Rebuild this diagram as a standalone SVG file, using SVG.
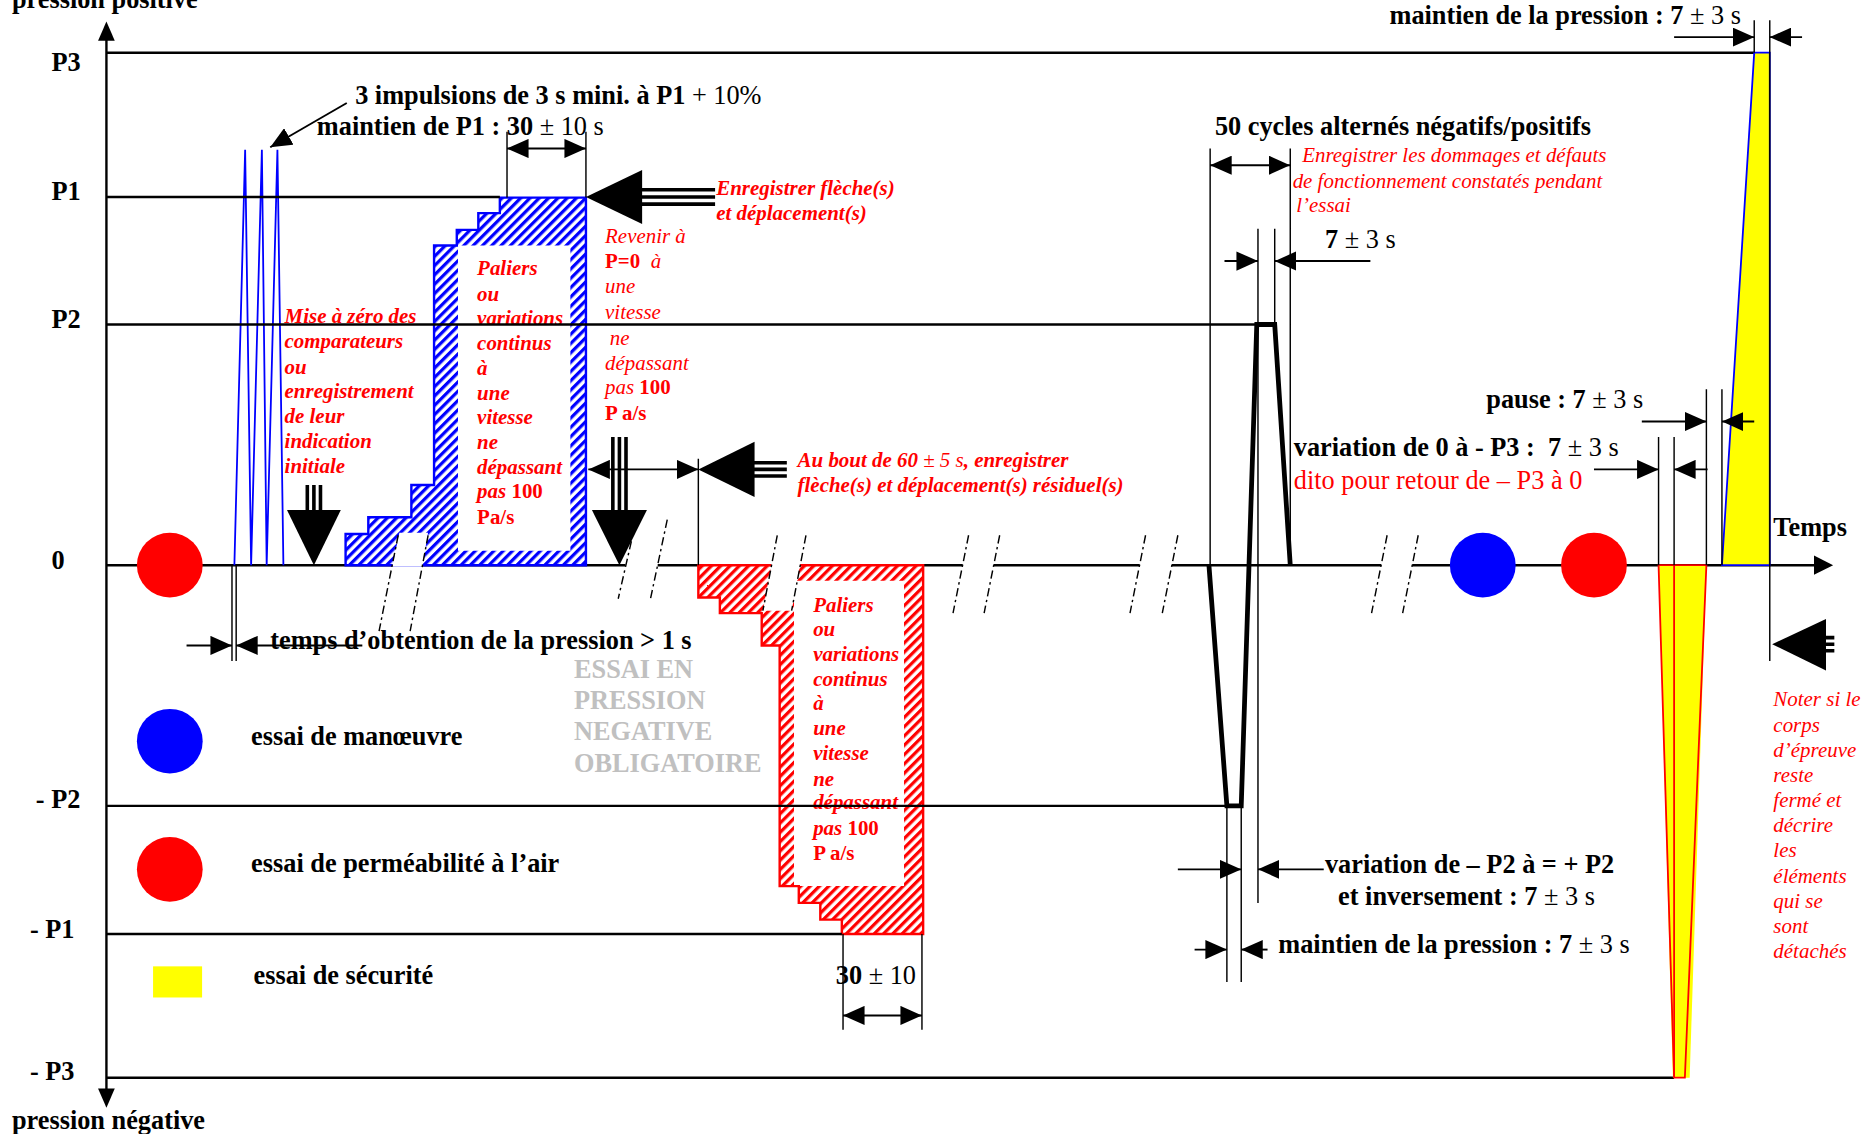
<svg xmlns="http://www.w3.org/2000/svg" width="1875" height="1134" viewBox="0 0 1875 1134">
<style>
text{font-family:"Liberation Serif","Times New Roman",serif}
.lb{font-size:22px;font-weight:bold;fill:#000}
.n{font-weight:normal}
.ri{font-size:17.5px;font-style:italic;fill:#f00}
.rbi{font-size:17.5px;font-style:italic;font-weight:bold;fill:#f00}
.up{font-style:normal;font-weight:bold}
.rr{font-size:22px;fill:#f00}
.gray{font-size:22px;font-weight:bold;fill:#c0c0c0}
.lvl{stroke:#000;stroke-width:2;fill:none}
.thin{stroke:#000;stroke-width:1.2;fill:none}
.dim{stroke:#000;stroke-width:1.6;fill:none}
.brk{stroke:#000;stroke-width:1.2;stroke-dasharray:7 3 2 3;fill:none}
.shaft{stroke:#000;stroke-width:3;fill:none}
.blk{fill:#000}
</style>
<defs>
<marker id="ah" viewBox="0 0 18 16" refX="18" refY="8" markerWidth="18" markerHeight="16" markerUnits="userSpaceOnUse" orient="auto-start-reverse"><path d="M0,0 L18,8 L0,16 z" fill="#000"/></marker>
<pattern id="hb" width="5.5" height="5.5" patternUnits="userSpaceOnUse" patternTransform="rotate(45)"><rect width="5.5" height="5.5" fill="#fff"/><rect x="0" y="0" width="2.7" height="5.5" fill="#00f"/></pattern>
<pattern id="hr" width="5.5" height="5.5" patternUnits="userSpaceOnUse" patternTransform="rotate(45)"><rect width="5.5" height="5.5" fill="#fff"/><rect x="0" y="0" width="2.7" height="5.5" fill="#f00"/></pattern>
</defs>
<rect width="1875" height="1134" fill="#fff"/>
<g transform="scale(1.19579,1.19746)">

<g id="axes">
<line class="lvl" x1="89" y1="30" x2="89" y2="912"/>
<path class="blk" d="M89,18 L82,34 L96,34 z"/>
<path class="blk" d="M89,925 L82,909 L96,909 z"/>
<path class="lvl" d="M89,472 H328 M353,472 H523 M550,472 H645 M669,472 H805 M831,472 H953 M980,472 H1155 M1181,472 H1520"/>
<path class="blk" d="M1533,472 L1517,464 L1517,480 z"/>
<text class="lb" x="10" y="7">pression positive</text>
<text class="lb" x="10" y="943">pression négative</text>
<text class="lb" x="1483" y="448">Temps</text>
<text class="lb" x="43" y="59">P3</text>
<text class="lb" x="43" y="167">P1</text>
<text class="lb" x="43" y="274">P2</text>
<text class="lb" x="43" y="475">0</text>
<text class="lb" x="30" y="675">- P2</text>
<text class="lb" x="25" y="783">- P1</text>
<text class="lb" x="25" y="902">- P3</text>
</g>

<g id="spikes">
<polyline points="196,472 205,125 210,472 219,125 223,472 232,125 237,472" fill="none" stroke="#00f" stroke-width="1.5"/>
</g>

<g id="positive-stairs">
<path d="M289,472 V446 H308 V432 H344 V405 H363 V205 H382 V192 H400 V178 H418 V165 H490 V472 Z M383,205 H477 V460 H383 Z" fill="url(#hb)" fill-rule="evenodd"/>
<path d="M289,472 V446 H308 V432 H344 V405 H363 V205 H382 V192 H400 V178 H418 V165 H490 V472 Z" fill="none" stroke="#00f" stroke-width="2"/>
<text class="rbi"><tspan x="399" y="230">Paliers</tspan><tspan x="399" y="251">ou</tspan><tspan x="399" y="271">variations</tspan><tspan x="399" y="292">continus</tspan><tspan x="399" y="313">à</tspan><tspan x="399" y="334">une</tspan><tspan x="399" y="354">vitesse</tspan><tspan x="399" y="375">ne</tspan><tspan x="399" y="396">dépassant</tspan><tspan x="399" y="416">pas <tspan class="up">100</tspan></tspan><tspan x="399" y="438" class="up">Pa/s</tspan></text>
</g>

<g id="negative-stairs">
<path d="M584,472 V499 H602 V512 H637 V539 H652 V740 H668 V754 H686 V768 H704 V780 H772 V472 Z M664,485 H756 V740 H664 Z" fill="url(#hr)" fill-rule="evenodd"/>
<path d="M584,472 V499 H602 V512 H637 V539 H652 V740 H668 V754 H686 V768 H704 V780 H772 V472 Z" fill="none" stroke="#f00" stroke-width="2"/>
<text class="rbi"><tspan x="680" y="511">Paliers</tspan><tspan x="680" y="531">ou</tspan><tspan x="680" y="552">variations</tspan><tspan x="680" y="573">continus</tspan><tspan x="680" y="593">à</tspan><tspan x="680" y="614">une</tspan><tspan x="680" y="635">vitesse</tspan><tspan x="680" y="656">ne</tspan><tspan x="680" y="676">dépassant</tspan><tspan x="680" y="697">pas <tspan class="up">100</tspan></tspan><tspan x="680" y="718" class="up">P a/s</tspan></text>
</g>

<g id="levels">
<line class="lvl" x1="89" y1="44" x2="1467" y2="44"/>
<line class="lvl" x1="89" y1="164.5" x2="418" y2="164.5"/>
<line class="lvl" x1="89" y1="271" x2="1052" y2="271"/>
<line class="lvl" x1="89" y1="673" x2="1026" y2="673"/>
<line class="lvl" x1="89" y1="780" x2="704" y2="780"/>
<line class="lvl" x1="89" y1="900" x2="1400" y2="900"/>
</g>

<g id="breaks">
<polygon points="334,445 358,445 353,473 328,473" fill="#fff"/>
<polygon points="645.4,470 669.4,470 662,510 638,510" fill="#fff"/>
<line class="brk" x1="333" y1="447" x2="317" y2="527"/>
<line class="brk" x1="358" y1="447" x2="343" y2="527"/>
<line class="brk" x1="528" y1="452" x2="517" y2="500"/>
<line class="brk" x1="558" y1="434" x2="544" y2="500"/>
<line class="brk" x1="650" y1="447" x2="638" y2="510"/>
<line class="brk" x1="674" y1="447" x2="662" y2="510"/>
<line class="brk" x1="810" y1="447" x2="797" y2="512"/>
<line class="brk" x1="836" y1="447" x2="823" y2="512"/>
<line class="brk" x1="958" y1="447" x2="945" y2="512"/>
<line class="brk" x1="985" y1="447" x2="972" y2="512"/>
<line class="brk" x1="1160" y1="447" x2="1147" y2="512"/>
<line class="brk" x1="1186" y1="447" x2="1173" y2="512"/>
</g>

<g id="cycles">
<polyline points="1011,472 1026,673 1038,673 1051,271 1066,271 1079,472" fill="none" stroke="#000" stroke-width="4"/>
</g>

<g id="security-positive">
<polygon points="1440,472 1467,44 1480,44 1480,472" fill="#ff0" stroke="#00f" stroke-width="1.5"/>
</g>
<g id="security-negative">
<polygon points="1387,472 1427,472 1413,900 1399,900" fill="#ff0"/>
<polygon points="1387,472 1427,472 1409,900 1400,900" fill="none" stroke="#f00" stroke-width="1.5"/>
<line x1="1400" y1="472" x2="1400" y2="900" stroke="#f00" stroke-width="1.5"/>
</g>

<g id="markers-on-axis">
<ellipse cx="142" cy="472" rx="27.5" ry="27" fill="#f00"/>
<ellipse cx="1240" cy="472" rx="27.5" ry="27" fill="#00f"/>
<ellipse cx="1333" cy="472" rx="27.5" ry="27" fill="#f00"/>
</g>

<g id="legend">
<ellipse cx="142" cy="619" rx="27.5" ry="27" fill="#00f"/>
<text class="lb" x="210" y="622">essai de manœuvre</text>
<ellipse cx="142" cy="726" rx="27.5" ry="27" fill="#f00"/>
<text class="lb" x="210" y="728">essai de perméabilité à l’air</text>
<rect x="128" y="807" width="41" height="26" fill="#ff0"/>
<text class="lb" x="212" y="822">essai de sécurité</text>
<text class="gray"><tspan x="480" y="566">ESSAI EN</tspan><tspan x="480" y="592">PRESSION</tspan><tspan x="480" y="618">NEGATIVE</tspan><tspan x="480" y="645">OBLIGATOIRE</tspan></text>
</g>

<g id="connectors">
<path class="thin" d="M424,110 V165 M490,110 V165 M194,472 V552 M197.5,472 V552 M705,780 V860 M771,780 V860 M1012,124 V472 M1079,124 V472 M1052,191 V754 M1066,191 V271 M1026,673 V820 M1038,673 V820 M1467,17 V44 M1480,17 V552 M1427,325 V472 M1440,325 V472 M1387,365 V472 M1400,365 V472 M584,383 V472"/>
<line class="dim" x1="424" y1="124" x2="490" y2="124" marker-start="url(#ah)" marker-end="url(#ah)"/>
<line class="dim" x1="156" y1="539" x2="194" y2="539" marker-end="url(#ah)"/>
<line class="dim" x1="303" y1="539" x2="197.5" y2="539" marker-end="url(#ah)"/>
<line class="dim" x1="705" y1="848" x2="771" y2="848" marker-start="url(#ah)" marker-end="url(#ah)"/>
<line class="dim" x1="1012" y1="138" x2="1079" y2="138" marker-start="url(#ah)" marker-end="url(#ah)"/>
<line class="dim" x1="1024" y1="218" x2="1052" y2="218" marker-end="url(#ah)"/>
<line class="dim" x1="1146" y1="218" x2="1066" y2="218" marker-end="url(#ah)"/>
<line class="dim" x1="985" y1="726" x2="1038" y2="726" marker-end="url(#ah)"/>
<line class="dim" x1="1107" y1="726" x2="1052" y2="726" marker-end="url(#ah)"/>
<line class="dim" x1="999" y1="793" x2="1026" y2="793" marker-end="url(#ah)"/>
<line class="dim" x1="1060" y1="793" x2="1038" y2="793" marker-end="url(#ah)"/>
<line class="dim" x1="1400" y1="31" x2="1467" y2="31" marker-end="url(#ah)"/>
<line class="dim" x1="1507" y1="31" x2="1480" y2="31" marker-end="url(#ah)"/>
<line class="dim" x1="1373" y1="352" x2="1427" y2="352" marker-end="url(#ah)"/>
<line class="dim" x1="1467" y1="352" x2="1440" y2="352" marker-end="url(#ah)"/>
<line class="dim" x1="1333" y1="392" x2="1387" y2="392" marker-end="url(#ah)"/>
<line class="dim" x1="1428" y1="392" x2="1400" y2="392" marker-end="url(#ah)"/>
<line class="dim" x1="492" y1="392" x2="584" y2="392" marker-start="url(#ah)" marker-end="url(#ah)"/>
<line class="dim" x1="290" y1="86" x2="226" y2="123" marker-end="url(#ah)"/>
<path class="blk" d="M490,164.5 L537,142 L537,187 z"/>
<path class="shaft" d="M536,158.5 H598 M536,164.5 H598 M536,170.5 H598"/>
<path class="blk" d="M584,392 L631,369 L631,415 z"/>
<path class="shaft" d="M630,386.5 H658 M630,392 H658 M630,397.5 H658"/>
<path class="blk" d="M1482,538 L1527,517 L1527,560 z"/>
<path class="shaft" d="M1526,532.5 H1534 M1526,538 H1534 M1526,543.5 H1534"/>
<path class="blk" d="M262.5,472 L240,426 L285,426 z"/>
<path class="shaft" d="M257,405 V427 M262.5,405 V427 M268,405 V427"/>
<path class="blk" d="M518,472 L495,426 L541,426 z"/>
<path class="shaft" d="M512.5,365 V427 M518,365 V427 M523.5,365 V427"/>
</g>

<g id="annotations">
<text class="lb" x="297" y="87">3 impulsions de 3 s mini. à P1 <tspan class="n">+ 10%</tspan></text>
<text class="lb" x="265" y="113">maintien de P1 : 30 <tspan class="n">± 10 s</tspan></text>
<text class="lb" x="226" y="542">temps d’obtention de la pression &gt; 1 s</text>
<text class="lb" x="699" y="822">30 <tspan class="n">± 10</tspan></text>
<text class="lb" x="1162" y="20">maintien de la pression : 7 <tspan class="n">± 3 s</tspan></text>
<text class="lb" x="1016" y="113">50 cycles alternés négatifs/positifs</text>
<text class="lb" x="1108" y="207">7 <tspan class="n">± 3 s</tspan></text>
<text class="lb" x="1243" y="341">pause : 7 <tspan class="n">± 3 s</tspan></text>
<text class="lb" x="1082" y="381">variation de 0 à - P3 :&#160; 7 <tspan class="n">± 3 s</tspan></text>
<text class="rr" x="1082" y="408">dito pour retour de – P3 à 0</text>
<text class="lb" x="1108" y="729">variation de – P2 à = + P2</text>
<text class="lb" x="1119" y="756">et inversement : 7 <tspan class="n">± 3 s</tspan></text>
<text class="lb" x="1069" y="796">maintien de la pression : 7 <tspan class="n">± 3 s</tspan></text>
<text class="rbi"><tspan x="599" y="163">Enregistrer flèche(s)</tspan><tspan x="599" y="184">et déplacement(s)</tspan></text>
<text class="ri"><tspan x="1089" y="135">Enregistrer les dommages et défauts</tspan><tspan x="1081" y="157">de fonctionnement constatés pendant</tspan><tspan x="1084" y="177">l’essai</tspan></text>
<text class="ri"><tspan x="506" y="203">Revenir à</tspan><tspan x="506" y="224"><tspan class="up">P=0</tspan>&#160; à</tspan><tspan x="506" y="245">une</tspan><tspan x="506" y="266">vitesse</tspan><tspan x="510" y="288">ne</tspan><tspan x="506" y="309">dépassant</tspan><tspan x="506" y="329">pas <tspan class="up">100</tspan></tspan><tspan x="506" y="351" class="up">P a/s</tspan></text>
<text class="rbi"><tspan x="238" y="270">Mise à zéro des</tspan><tspan x="238" y="291">comparateurs</tspan><tspan x="238" y="312">ou</tspan><tspan x="238" y="332">enregistrement</tspan><tspan x="238" y="353">de leur</tspan><tspan x="238" y="374">indication</tspan><tspan x="238" y="395">initiale</tspan></text>
<text class="rbi"><tspan x="667" y="390">Au bout de 60 <tspan font-weight="normal">± 5 s</tspan>, enregistrer</tspan><tspan x="667" y="411">flèche(s) et déplacement(s) résiduel(s)</tspan></text>
<text class="ri"><tspan x="1483" y="590">Noter si le</tspan><tspan x="1483" y="611">corps</tspan><tspan x="1483" y="632">d’épreuve</tspan><tspan x="1483" y="653">reste</tspan><tspan x="1483" y="674">fermé et</tspan><tspan x="1483" y="695">décrire</tspan><tspan x="1483" y="716">les</tspan><tspan x="1483" y="737">éléments</tspan><tspan x="1483" y="758">qui se</tspan><tspan x="1483" y="779">sont</tspan><tspan x="1483" y="800">détachés</tspan></text>
</g>

</g>
</svg>
